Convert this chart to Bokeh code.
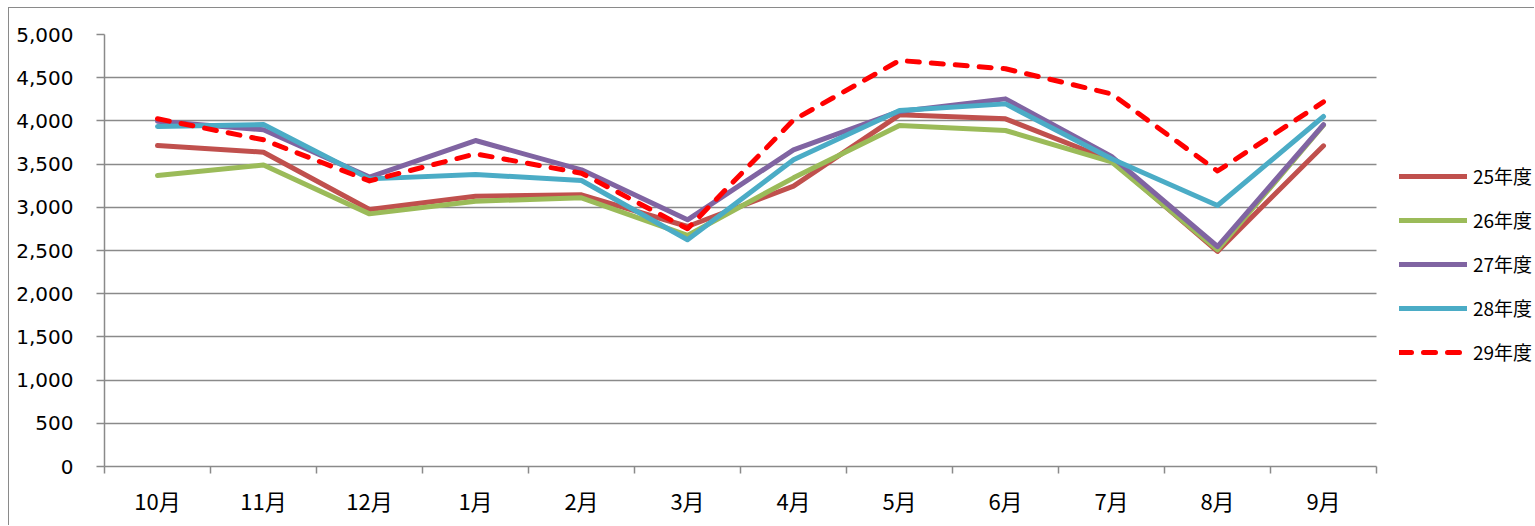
from bokeh.plotting import figure
from bokeh.models import FixedTicker, NumeralTickFormatter, Legend, LegendItem, Range1d, BoxAnnotation
from bokeh.embed import file_html
from bokeh.resources import INLINE

months = ["10月", "11月", "12月", "1月", "2月", "3月", "4月", "5月", "6月", "7月", "8月", "9月"]
fy25 = [3715, 3638, 2975, 3129, 3145, 2778, 3245, 4070, 4024, 3542, 2490, 3712]
fy26 = [3368, 3490, 2924, 3071, 3110, 2674, 3341, 3947, 3889, 3525, 2508, 3950]
fy27 = [3997, 3897, 3350, 3773, 3434, 2855, 3665, 4110, 4255, 3590, 2546, 3958]
fy28 = [3935, 3958, 3329, 3380, 3310, 2624, 3550, 4120, 4197, 3561, 3021, 4051]
fy29 = [4024, 3781, 3305, 3619, 3395, 2751, 4010, 4699, 4603, 4313, 3420, 4220]
series_names = ["25年度", "26年度", "27年度", "28年度", "29年度"]
y_ticks = [0, 500, 1000, 1500, 2000, 2500, 3000, 3500, 4000, 4500, 5000]

colors = ["#C0504D", "#9BBB59", "#8064A2", "#4BACC6", "#FF0000"]
dashes = ["solid", "solid", "solid", "solid", "12 12"]

n = len(months)
xs = list(range(n))
GRAY = "#8a8a8a"

# frame spans to the right edge so the legend (placed in the frame) is not clipped;
# the category area itself covers -0.5 .. 11.5
p = figure(width=1526, height=518, output_backend="svg", toolbar_location=None,
           x_range=Range1d(-0.5, n + 1.0), y_range=Range1d(0, 5000),
           min_border_left=95, min_border_top=26, min_border_bottom=60, min_border_right=0)
p.styles = {"margin-left": "8px", "margin-top": "7px",
            "border-left": "1px solid " + GRAY, "border-top": "1px solid " + GRAY}
p.outline_line_color = None
p.background_fill_color = "white"
p.border_fill_color = "white"

# y grid
p.ygrid.grid_line_color = GRAY
p.ygrid.grid_line_width = 1.5
p.xgrid.grid_line_color = None

renderers = []
for vals, c, d in zip([fy25, fy26, fy27, fy28, fy29], colors, dashes):
    r = p.line(xs, vals, line_color=c, line_width=5, line_dash=d,
               line_join="round", line_cap="round")
    renderers.append(r)

# blank area right of the category axis (legend area)
p.add_layout(BoxAnnotation(left=n - 0.5, fill_color="white", fill_alpha=1.0,
                           line_alpha=0, level="underlay"))

# x axis
p.xaxis.ticker = FixedTicker(ticks=xs, minor_ticks=[i - 0.5 for i in range(n + 1)])
p.xaxis.bounds = (-0.5, n - 0.5)
p.xaxis.major_label_overrides = {i: m for i, m in enumerate(months)}
p.xaxis.major_tick_line_color = None
p.xaxis.major_tick_out = 6
p.xaxis.minor_tick_line_color = GRAY
p.xaxis.minor_tick_line_width = 1.5
p.xaxis.minor_tick_in = 0
p.xaxis.minor_tick_out = 7
p.xaxis.axis_line_color = GRAY
p.xaxis.axis_line_width = 1.5
p.xaxis.major_label_text_font = "Noto Sans CJK JP"
p.xaxis.major_label_text_font_size = "22px"
p.xaxis.major_label_text_color = "black"
p.xaxis.major_label_standoff = 10

# y axis
p.yaxis.ticker = FixedTicker(ticks=y_ticks)
p.yaxis.formatter = NumeralTickFormatter(format="0,0")
p.yaxis.major_tick_line_color = GRAY
p.yaxis.major_tick_line_width = 1.5
p.yaxis.major_tick_in = 0
p.yaxis.major_tick_out = 8
p.yaxis.minor_tick_line_color = None
p.yaxis.axis_line_color = GRAY
p.yaxis.axis_line_width = 1.5
p.yaxis.major_label_text_font = "DejaVu Sans"
p.yaxis.major_label_text_font_size = "20px"
p.yaxis.major_label_text_color = "black"
p.yaxis.major_label_standoff = 23

legend = Legend(items=[LegendItem(label=s, renderers=[r]) for s, r in zip(series_names, renderers)],
                location=(1295, 101), padding=0, margin=0, border_line_color=None,
                background_fill_alpha=0, glyph_width=68, glyph_height=20, label_height=20,
                spacing=17, label_standoff=6, label_text_font="Noto Sans CJK JP",
                label_text_font_size="19px", label_text_color="black")
p.add_layout(legend, "center")

open("out.html", "w").write(file_html(p, INLINE))
